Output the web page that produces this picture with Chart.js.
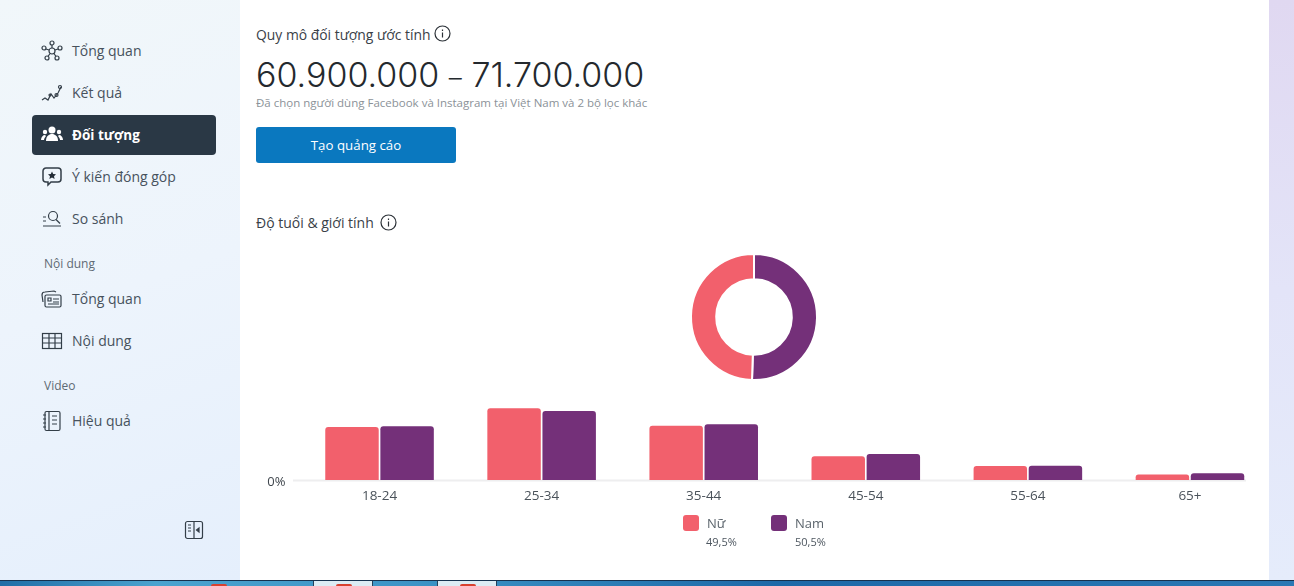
<!DOCTYPE html>
<html lang="vi">
<head>
<meta charset="utf-8">
<title>Độ tuổi & giới tính</title>
<script src="https://cdn.jsdelivr.net/npm/chart.js@4"></script>
<style>
html, body { margin: 0; padding: 0; }
body { width: 1294px; height: 586px; position: relative; overflow: hidden; background: #fff; font-family: "Open Sans", "Noto Sans", sans-serif; color: #3c4650; }
.abs { position: absolute; white-space: nowrap; }
#sidebar { left: 0; top: 0; width: 240px; height: 580px; background: linear-gradient(160deg, #f1f7fa 0%, #edf4fc 50%, #e5effc 100%); }
#strip { left: 1269px; top: 0; width: 25px; height: 580px; background: linear-gradient(180deg, #e0d8f1 0%, #e3e4f8 50%, #e5ecfb 100%); }
#active { left: 32px; top: 115px; width: 184px; height: 40px; background: #2a3845; border-radius: 4px; }
.nav { left: 72px; font-size: 14px; line-height: 20px; color: #47525d; }
.group { left: 44px; font-size: 12px; line-height: 16px; color: #5f6a74; }
svg.ic { position: absolute; fill: none; stroke: #333e48; stroke-width: 1.2; }
#bigNum { left: 256px; top: 55px; font-family: "Inter", sans-serif; font-size: 34px; line-height: 40px; color: #24292e; font-weight: 300; }
#bigNum span { font-size: 26px; }
#btn { left: 256px; top: 127px; width: 200px; height: 36px; border-radius: 3px; background: #0a78bf; color: #fff; font-size: 13.3px; line-height: 36px; text-align: center; }
.swatch { width: 16px; height: 16px; border-radius: 3px; }
#barBox { left: 240px; top: 390px; width: 1054px; height: 125px; }
#pieBox { left: 684px; top: 247px; width: 140px; height: 140px; }
canvas { display: block; }
#taskbar { left: 0; top: 580px; width: 1294px; height: 6px; background: linear-gradient(90deg, #1f6da6 0%, #4aa3cf 12%, #3c94c6 32%, #1d69a8 60%, #2a78b4 100%); border-top: 1px solid #16324f; box-sizing: border-box; }
.tab { top: 581px; width: 58px; height: 5px; background: #dcecf4; border-left: 1px solid #24405a; border-right: 1px solid #24405a; }
.dot { top: 584px; width: 16px; height: 2px; background: #d8412f; border-radius: 8px 8px 0 0; }
</style>
</head>
<body>
<div class="abs" id="sidebar"></div>
<div class="abs" id="strip"></div>
<div class="abs" id="active"></div>

<svg class="ic" style="left:41px;top:40px" width="22" height="22" viewBox="0 0 22 22"><circle cx="11" cy="11" r="3"/><circle cx="11" cy="3" r="2"/><circle cx="3" cy="8" r="2"/><circle cx="19" cy="8" r="2"/><circle cx="6" cy="18" r="2"/><circle cx="16" cy="18" r="2"/><path d="M11 5v3M5 9l3 1M17 9l-3 1M7 16.500l2-3M15 16.500l-2-3"/></svg>
<svg class="ic" style="left:41px;top:84px" width="22" height="20" viewBox="0 0 22 20"><path d="M1 16l3-2 3 2 3-6 3 4 4-5 3-6"/><circle cx="19" cy="3" r="1.500"/><circle cx="15.500" cy="11" r="1.500"/><circle cx="9" cy="11" r="1"/></svg>
<svg class="ic" style="left:41px;top:126px;fill:#fff;stroke:none" width="22" height="18" viewBox="0 0 22 18"><circle cx="11" cy="4" r="3.500"/><circle cx="4" cy="6" r="2.200"/><circle cx="18" cy="6" r="2.200"/><path d="M5 15c0-5 3-7 6-7s6 2 6 7z"/><path d="M0 14c0-3 2-5 4-5l1 1c-1 1-2 3-2 4zM22 14c0-3-2-5-4-5l-1 1c1 1 2 3 2 4z"/></svg>
<svg class="ic" style="left:42px;top:167px;stroke-width:1.500" width="20" height="20" viewBox="0 0 20 20"><path d="M4 1h12a3 3 0 0 1 3 3v8a3 3 0 0 1-3 3H9l-3 3v-3H4a3 3 0 0 1-3-3V4a3 3 0 0 1 3-3z"/><path d="M10 4.500l1.200 2.500 2.800.3-2 1.900.6 2.800-2.600-1.400-2.600 1.400.6-2.800-2-1.900 2.800-.3z" fill="#222c36" stroke="none"/></svg>
<svg class="ic" style="left:42px;top:209px" width="20" height="20" viewBox="0 0 20 20"><path d="M1 8h3M1 12h3M1 17h18"/><circle cx="11" cy="7" r="4.500"/><path d="M14 10.500l4 4"/></svg>
<svg class="ic" style="left:41px;top:289px" width="22" height="20" viewBox="0 0 22 20"><rect x="4" y="6" width="16" height="12" rx="1.500"/><path d="M2 13L1 6c0-2 1-3 3-3l9-1 2 1M7 9h3v3H7zM12 10h6M12 13h6M7 15h11"/></svg>
<svg class="ic" style="left:41px;top:332px" width="22" height="18" viewBox="0 0 22 18"><rect x="1.500" y="1.500" width="19" height="15"/><path d="M1.500 6h19M1.500 11h19M8 1.500v15M14 1.500v15"/></svg>
<svg class="ic" style="left:42px;top:410px" width="20" height="22" viewBox="0 0 20 22"><rect x="3" y="1.500" width="15" height="19" rx="1.500"/><path d="M7 2v18M10 6h5M10 10h5M10 14h5M1 5h3M1 9h3M1 13h3M1 17h3"/></svg>
<svg class="ic" style="left:184px;top:520px" width="20" height="20" viewBox="0 0 20 20"><rect x="1.500" y="1.500" width="17" height="17" rx="2"/><path d="M10 1.500v17M4 5h3M4 8h3M4 11h3"/><path d="M15 8v4l-2.500-2z" fill="#333e48"/></svg>

<div class="abs nav" style="top:41px">Tổng quan</div>
<div class="abs nav" style="top:83px">Kết quả</div>
<div class="abs nav" style="top:125px;color:#fff;font-weight:700;font-size:13.500px">Đối tượng</div>
<div class="abs nav" style="top:167px">Ý kiến đóng góp</div>
<div class="abs nav" style="top:209px">So sánh</div>
<div class="abs group" style="top:256px">Nội dung</div>
<div class="abs nav" style="top:289px">Tổng quan</div>
<div class="abs nav" style="top:331px">Nội dung</div>
<div class="abs group" style="top:378px">Video</div>
<div class="abs nav" style="top:411px">Hiệu quả</div>

<div class="abs" style="left:256px;top:25px;font-size:13.900px;line-height:20px;color:#3a4148">Quy mô đối tượng ước tính</div>
<svg class="ic" style="left:434px;top:25px;stroke:#2b3137" width="17" height="17" viewBox="0 0 17 17"><circle cx="8.500" cy="8.500" r="7.500"/><path d="M8.500 7.500v5M8.500 4.500v1.500"/></svg>
<div class="abs" id="bigNum">60.900.000 <span>–</span> 71.700.000</div>
<div class="abs" style="left:256px;top:95px;font-size:11.500px;line-height:16px;color:#8b9298">Đã chọn người dùng Facebook và Instagram tại Việt Nam và 2 bộ lọc khác</div>
<div class="abs" id="btn">Tạo quảng cáo</div>
<div class="abs" style="left:256px;top:213px;font-size:14px;line-height:20px;color:#3a4148">Độ tuổi &amp; giới tính</div>
<svg class="ic" style="left:380px;top:214px;stroke:#2b3137" width="17" height="17" viewBox="0 0 17 17"><circle cx="8.500" cy="8.500" r="7.500"/><path d="M8.500 7.500v5M8.500 4.500v1.500"/></svg>

<div class="abs" id="pieBox"><canvas id="pieChart" width="140" height="140"></canvas></div>
<div class="abs" id="barBox"><canvas id="barChart" width="1054" height="125"></canvas></div>

<div class="abs swatch" style="left:683px;top:515px;background:#f2606c"></div>
<div class="abs" style="left:707px;top:514px;font-size:13px;line-height:18px;color:#5b646c">Nữ</div>
<div class="abs" style="left:706px;top:534px;font-size:11px;line-height:15px;color:#4e5760">49,5%</div>
<div class="abs swatch" style="left:771px;top:515px;background:#743079"></div>
<div class="abs" style="left:795px;top:514px;font-size:13px;line-height:18px;color:#5b646c">Nam</div>
<div class="abs" style="left:795px;top:534px;font-size:11px;line-height:15px;color:#4e5760">50,5%</div>

<div class="abs" id="taskbar"></div>
<div class="abs tab" style="left:313px"></div>
<div class="abs tab" style="left:437px"></div>
<div class="abs dot" style="left:211px"></div>
<div class="abs dot" style="left:336px"></div>
<div class="abs dot" style="left:460px"></div>

<script>
const ageGroups = ["18-24", "25-34", "35-44", "45-54", "55-64", "65+"];
const femaleShare = [11.8, 16.0, 12.1, 5.3, 3.1, 1.2];
const maleShare = [12.0, 15.4, 12.4, 5.8, 3.2, 1.5];
const genderLabels = ["Nam", "Nữ"];
const genderTotals = [50.5, 49.5];

const pink = "#f2606c";
const purple = "#743079";

new Chart(document.getElementById("pieChart"), {
    type: "doughnut",
    data: {
        labels: genderLabels,
        datasets: [{
            data: genderTotals,
            backgroundColor: [purple, pink],
            borderColor: "#fff",
            borderWidth: 2
        }]
    },
    options: {
        responsive: false,
        animation: false,
        cutout: "60%",
        layout: {padding: 6},
        plugins: {legend: {display: false}, tooltip: {enabled: false}}
    }
});

// axis line stops short of the last category band in the original
const baseLine = {
    id: "baseLine",
    beforeDatasetsDraw(chart) {
        const c = chart.ctx;
        const y = chart.scales.y.getPixelForValue(0);
        c.save();
        c.strokeStyle = "#eeeeef";
        c.lineWidth = 2;
        c.beginPath();
        c.moveTo(53, y + 0.5);
        c.lineTo(1006, y + 0.5);
        c.stroke();
        c.restore();
    }
};

new Chart(document.getElementById("barChart"), {
    type: "bar",
    data: {
        labels: ageGroups,
        datasets: [
            {label: "Nữ", data: femaleShare, backgroundColor: pink, borderRadius: {topLeft: 3, topRight: 3}, borderSkipped: false},
            {label: "Nam", data: maleShare, backgroundColor: purple, borderRadius: {topLeft: 3, topRight: 3}, borderSkipped: false}
        ]
    },
    options: {
        responsive: false,
        animation: false,
        categoryPercentage: 0.68,
        barPercentage: 0.97,
        layout: {padding: {left: 0, right: 23, top: 0, bottom: 0}},
        plugins: {legend: {display: false}, tooltip: {enabled: false}},
        scales: {
            x: {
                afterFit(axis) { axis.height = 35; },
                grid: {display: false},
                border: {display: false},
                ticks: {color: "#4a525a", padding: 0, font: {family: "Open Sans", size: 13.5}, maxRotation: 0}
            },
            y: {
                min: 0,
                max: 17.2,
                afterFit(axis) { axis.width = 58.5; },
                grid: {display: false},
                border: {display: false},
                ticks: {
                    color: "#3f464d",
                    padding: 5,
                    labelOffset: 2,
                    font: {family: "Open Sans", size: 13},
                    callback: v => v === 0 ? "0%" : ""
                }
            }
        }
    },
    plugins: [baseLine]
});
</script>
</body>
</html>
